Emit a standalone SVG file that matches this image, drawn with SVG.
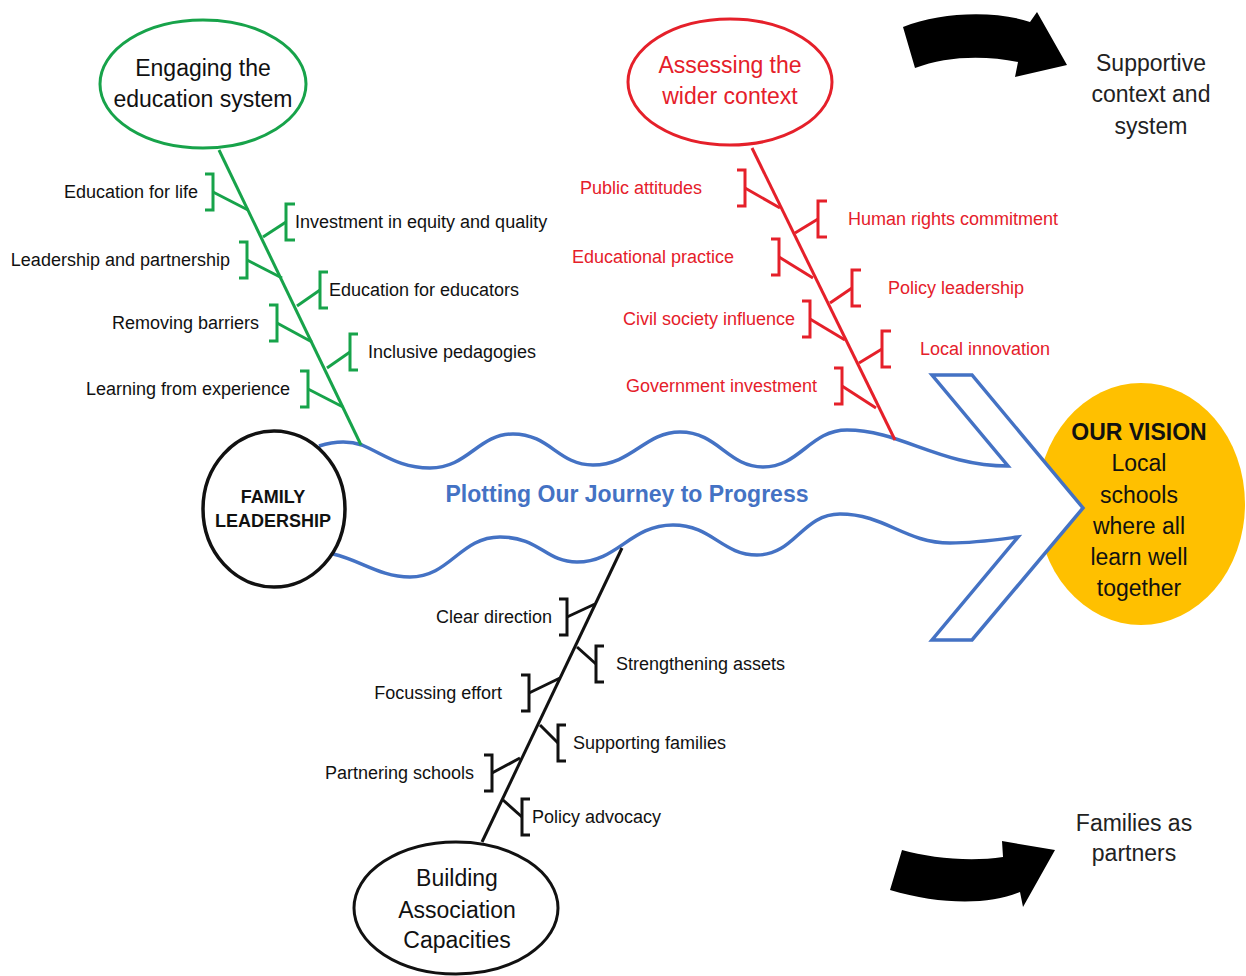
<svg xmlns="http://www.w3.org/2000/svg" width="1246" height="976" viewBox="0 0 1246 976">
<style>
text{font-family:"Liberation Sans",Arial,sans-serif;}
.lbl{font-size:18px;fill:#111;}
.lblr{font-size:18px;fill:#e5202a;}
.big{font-size:23px;fill:#111;text-anchor:middle;}
.bigr{font-size:23px;fill:#e5202a;text-anchor:middle;}
.end{text-anchor:end;}
.g{stroke:#17a34a;stroke-width:3;fill:none;}
.r{stroke:#e5202a;stroke-width:3;fill:none;}
.k{stroke:#111;stroke-width:3;fill:none;}
.wave{stroke:#4472c4;stroke-width:3.5;fill:#fff;stroke-linejoin:miter;}
</style>

<g id="vision">
<ellipse cx="1141" cy="504" rx="104" ry="121" fill="#ffc000"/>
</g>

<g id="journey">
<path class="wave" d="M 319,446 C 335,441 350,441 362,445 C 385,455 400,468 430,468 C 468,468 478,434 513,434 C 550,434 558,465 593,465 C 632,465 645,432 680,432 C 718,432 728,467 763,467 C 800,467 810,430 847,430 C 900,430 940,466 1008,466 L 932,375 L 972,375 L 1083,508 L 972,640 L 932,640 L 1018,537 C 995,540 975,543 950,543 C 905,543 885,514 840,514 C 802,514 795,555 757,555 C 722,555 712,525 673,525 C 630,525 618,562 577,562 C 545,562 540,537 500,537 C 460,537 450,577 410,577 C 380,577 360,560 333,554"/>
<text x="627" y="502" style="font-size:23px;font-weight:bold;fill:#4472c4;text-anchor:middle">Plotting Our Journey to Progress</text>
</g>

<g id="vision-text">
<text x="1139" y="440" class="big" style="font-weight:bold">OUR VISION</text>
<text x="1139" y="471" class="big">Local</text>
<text x="1139" y="503" class="big">schools</text>
<text x="1139" y="534" class="big">where all</text>
<text x="1139" y="565" class="big">learn well</text>
<text x="1139" y="596" class="big">together</text>
</g>

<g id="connectors">
<line class="g" x1="219" y1="150" x2="361" y2="445"/>
<line class="g" x1="213" y1="192" x2="248" y2="210"/>
<line class="g" x1="247" y1="260" x2="282" y2="278"/>
<line class="g" x1="277" y1="323" x2="312" y2="342"/>
<line class="g" x1="308" y1="389" x2="343" y2="407"/>
<line class="g" x1="263" y1="237" x2="286" y2="222"/>
<line class="g" x1="297" y1="306" x2="320" y2="290"/>
<line class="g" x1="327" y1="368" x2="350" y2="352"/>
<line class="r" x1="752" y1="148" x2="895" y2="440"/>
<line class="r" x1="745" y1="188" x2="780" y2="208"/>
<line class="r" x1="779" y1="257" x2="813" y2="278"/>
<line class="r" x1="810" y1="319" x2="845" y2="340"/>
<line class="r" x1="842" y1="386" x2="876" y2="408"/>
<line class="r" x1="795" y1="233" x2="818" y2="219"/>
<line class="r" x1="830" y1="303" x2="852" y2="288"/>
<line class="r" x1="859" y1="363" x2="882" y2="349"/>
<line class="k" x1="622" y1="548" x2="482" y2="842"/>
<line class="k" x1="567" y1="617" x2="595" y2="604"/>
<line class="k" x1="529" y1="693" x2="560" y2="678"/>
<line class="k" x1="492" y1="773" x2="520" y2="758"/>
<line class="k" x1="577" y1="647" x2="596" y2="664"/>
<line class="k" x1="540" y1="725" x2="558" y2="743"/>
<line class="k" x1="503" y1="800" x2="522" y2="817"/>
</g>

<g id="family-leadership">
<ellipse cx="274" cy="509" rx="71" ry="78" fill="#fff" stroke="#111" stroke-width="3.5"/>
<text x="273" y="503" style="font-size:18px;font-weight:bold;fill:#111;text-anchor:middle">FAMILY</text>
<text x="273" y="527" style="font-size:18px;font-weight:bold;fill:#111;text-anchor:middle">LEADERSHIP</text>
</g>

<g id="engaging">
<ellipse cx="203" cy="84" rx="103" ry="64" fill="#fff" stroke="#17a34a" stroke-width="3"/>
<text x="203" y="76" class="big">Engaging the</text>
<text x="203" y="107" class="big">education system</text>
</g>

<g id="assessing">
<ellipse cx="730" cy="82" rx="102" ry="63" fill="#fff" stroke="#e5202a" stroke-width="3"/>
<text x="730" y="73" class="bigr">Assessing the</text>
<text x="730" y="104" class="bigr">wider context</text>
</g>

<g id="building">
<ellipse cx="456" cy="908" rx="102" ry="66" fill="#fff" stroke="#111" stroke-width="3"/>
<text x="457" y="886" class="big">Building</text>
<text x="457" y="918" class="big">Association</text>
<text x="457" y="948" class="big">Capacities</text>
</g>

<g id="g-life"><path class="g" d="M205,174 H213 V210 H205"/><text x="198" y="198" class="lbl end">Education for life</text></g>
<g id="g-lead"><path class="g" d="M239,242 H247 V278 H239"/><text x="230" y="266" class="lbl end">Leadership and partnership</text></g>
<g id="g-barriers"><path class="g" d="M269,305 H277 V341 H269"/><text x="259" y="329" class="lbl end">Removing barriers</text></g>
<g id="g-learning"><path class="g" d="M300,371 H308 V407 H300"/><text x="290" y="395" class="lbl end">Learning from experience</text></g>
<g id="g-invest"><path class="g" d="M295,204 H286 V240 H295"/><text x="295" y="228" class="lbl">Investment in equity and quality</text></g>
<g id="g-educators"><path class="g" d="M328,272 H320 V308 H328"/><text x="329" y="296" class="lbl">Education for educators</text></g>
<g id="g-inclusive"><path class="g" d="M358,334 H350 V370 H358"/><text x="368" y="358" class="lbl">Inclusive pedagogies</text></g>

<g id="r-public"><path class="r" d="M737,170 H745 V206 H737"/><text x="702" y="194" class="lblr end">Public attitudes</text></g>
<g id="r-practice"><path class="r" d="M771,239 H779 V275 H771"/><text x="734" y="263" class="lblr end">Educational practice</text></g>
<g id="r-civil"><path class="r" d="M802,301 H810 V337 H802"/><text x="795" y="325" class="lblr end">Civil society influence</text></g>
<g id="r-gov"><path class="r" d="M834,368 H842 V404 H834"/><text x="817" y="392" class="lblr end">Government investment</text></g>
<g id="r-human"><path class="r" d="M827,201 H818 V237 H827"/><text x="848" y="225" class="lblr">Human rights commitment</text></g>
<g id="r-policy"><path class="r" d="M861,270 H852 V306 H861"/><text x="888" y="294" class="lblr">Policy leadership</text></g>
<g id="r-local"><path class="r" d="M891,331 H882 V367 H891"/><text x="920" y="355" class="lblr">Local innovation</text></g>

<g id="k-clear"><path class="k" d="M559,599 H567 V635 H559"/><text x="552" y="623" class="lbl end">Clear direction</text></g>
<g id="k-focus"><path class="k" d="M521,675 H529 V711 H521"/><text x="502" y="699" class="lbl end">Focussing effort</text></g>
<g id="k-partner"><path class="k" d="M484,755 H492 V791 H484"/><text x="474" y="779" class="lbl end">Partnering schools</text></g>
<g id="k-assets"><path class="k" d="M604,646 H596 V682 H604"/><text x="616" y="670" class="lbl">Strengthening assets</text></g>
<g id="k-families"><path class="k" d="M566,725 H558 V761 H566"/><text x="573" y="749" class="lbl">Supporting families</text></g>
<g id="k-advocacy"><path class="k" d="M530,799 H522 V835 H530"/><text x="532" y="823" class="lbl">Policy advocacy</text></g>

<g id="arrow-top">
<path d="M 903,27 C 940,12 995,10 1030,22 L 1037,12 L 1067,65 L 1015,77 L 1018,62 C 985,55 945,56 915,68 Z" fill="#000"/>
</g>
<g id="supportive">
<text x="1151" y="71" class="big" style="fill:#222">Supportive</text>
<text x="1151" y="102" class="big" style="fill:#222">context and</text>
<text x="1151" y="134" class="big" style="fill:#222">system</text>
</g>

<g id="arrow-bottom">
<path d="M 902,850 C 930,858 970,862 1003,857 L 1002,841 L 1055,850 L 1023,907 L 1020,892 C 990,905 940,905 890,890 Z" fill="#000"/>
</g>
<g id="families-partners">
<text x="1134" y="831" class="big" style="fill:#222">Families as</text>
<text x="1134" y="861" class="big" style="fill:#222">partners</text>
</g>
</svg>
